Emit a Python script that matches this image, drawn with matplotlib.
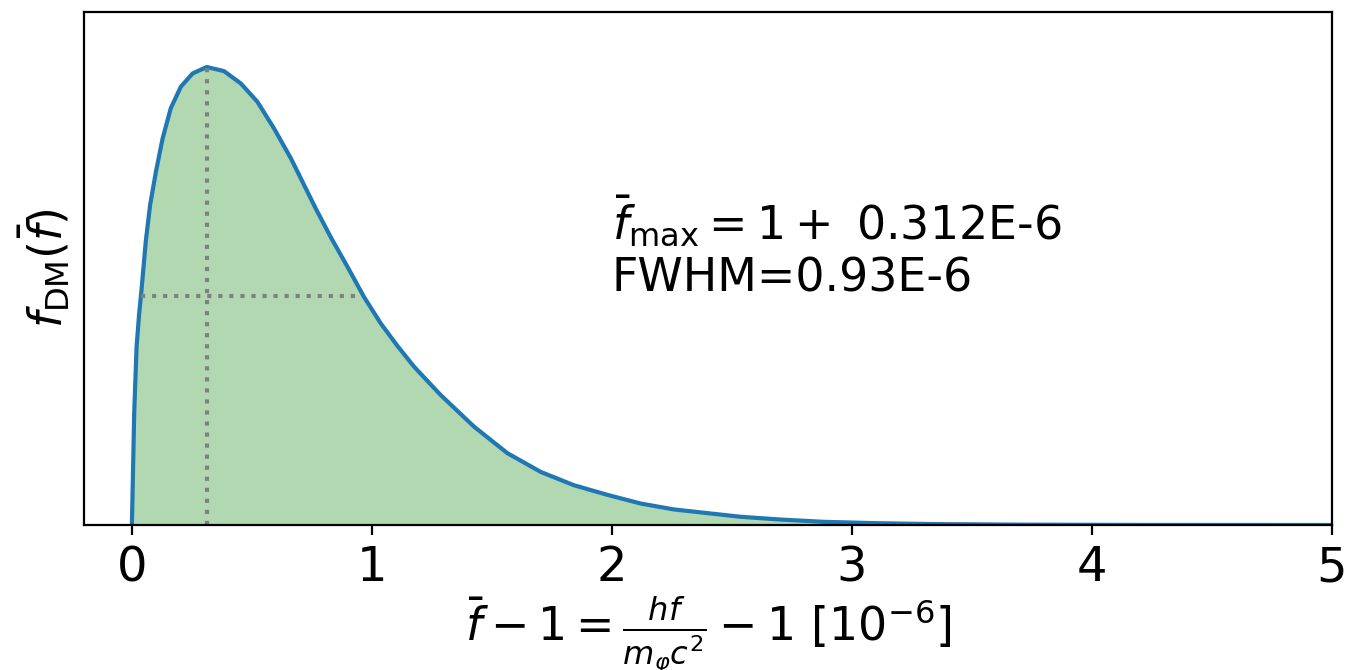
import matplotlib
matplotlib.use("Agg")
import matplotlib.pyplot as plt

# line shape (normalised so the peak is 1)
x_vals = [0.0, 0.002, 0.004, 0.0096, 0.0195, 0.03, 0.04, 0.058, 0.076, 0.100,
          0.128, 0.162, 0.204, 0.253, 0.312, 0.384, 0.454, 0.523, 0.592, 0.662,
          0.731, 0.766, 0.83, 0.898, 0.967, 1.037, 1.105, 1.175, 1.286, 1.425,
          1.564, 1.703, 1.841, 1.980, 2.119, 2.258, 2.397, 2.535, 2.7, 2.88,
          3.1, 3.34, 3.7, 4.2, 5.0]
y_vals = [0.0, 0.05, 0.10, 0.244, 0.389, 0.46, 0.513, 0.62, 0.699, 0.771,
          0.844, 0.910, 0.957, 0.986, 1.0, 0.991, 0.964, 0.924, 0.866, 0.801,
          0.728, 0.691, 0.627, 0.564, 0.498, 0.440, 0.392, 0.346, 0.284, 0.215,
          0.157, 0.116, 0.087, 0.066, 0.047, 0.034, 0.026, 0.018, 0.012, 0.007,
          0.004, 0.002, 0.0008, 0.0002, 0.0]

f_peak = 0.312
peak_val = 1.0
half_lo = 0.04
half_hi = 0.96
fwhm = 0.93

fig, ax = plt.subplots(figsize=(6.765, 3.35), dpi=200)
fig.subplots_adjust(left=0.062, right=0.9845, bottom=0.2164, top=0.982)

ax.plot(x_vals, y_vals, color='C0', lw=1.5)
ax.fill_between(x_vals, y_vals, color='green', alpha=0.3, lw=0)
ax.plot([f_peak, f_peak], [0, peak_val], ls=':', color='gray', lw=1.5)
ax.plot([half_lo, half_hi], [peak_val / 2, peak_val / 2], ls=':', color='gray', lw=1.5)

ax.text(2.0, 0.51, r'$\bar{f}_{\rm max}=1+$ ' + f'{f_peak}E-6\nFWHM={fwhm}E-6',
        fontsize=16.5, va='baseline', ha='left')

ax.set_xlim(-0.2, 5)
ax.set_ylim(0, 1.12)
ax.set_yticks([])
ax.tick_params(axis='x', labelsize=17.28)
ax.set_ylabel(r'$f_{\rm DM}(\bar{f})$', fontsize=16.5)
ax.set_xlabel(r'$\bar{f}-1=\frac{hf}{m_\varphi c^2}-1\ [10^{-6}]$', fontsize=16.5,
              labelpad=1)

plt.savefig('out.png', dpi=200)
